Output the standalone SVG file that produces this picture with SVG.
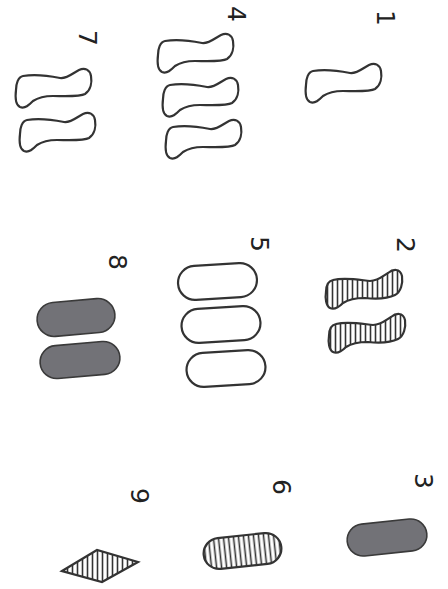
<svg xmlns="http://www.w3.org/2000/svg" width="448" height="589" viewBox="0 0 448 589">
<style>
.lbl{font-family:"DejaVu Sans",sans-serif;font-size:25px;fill:#222;text-anchor:middle;dominant-baseline:central}
.out{fill:none;stroke:#333;stroke-width:2.2;stroke-linejoin:round}
.hat{fill:url(#hatch);stroke:#333;stroke-width:2.2}
.gry{fill:#727277;stroke:#3a3a3a;stroke-width:1.6}
</style>
<defs>
<pattern id="hatch" patternUnits="userSpaceOnUse" width="5" height="10">
<rect width="5" height="10" fill="#fff"/>
<line x1="2.5" y1="0" x2="2.5" y2="10" stroke="#333" stroke-width="1.6"/>
</pattern>
<path id="sq" d="M8,8 C20,6 35,8 45,10 C52,11 58,5 64,2 C70,-1 75,2 76,8 C77,14 76,22 70,26 C65,29 48,28 38,28 C30,28 24,29 18,33 C14,37 10,41 5,39 C1,37 0,30 1,22 C1,16 3,9 8,8 Z"/>
<path id="sqh" d="M8,12 C20,9 35,12 45,13 C53,13 58,8 63,5 C68,1 75,0 77,8 C78,15 76,24 70,27 C62,31 50,31 40,30 C30,30 24,31 18,35 C14,39 9,42 5,40 C1,38 0,30 1,24 C1,18 3,13 8,12 Z"/>
</defs>
<rect width="448" height="589" fill="#fff"/>

<g id="n1">
<text class="lbl" transform="translate(385,18) rotate(90)">1</text>
<use href="#sq" class="out" x="305" y="63"/>
</g>
<g id="n4">
<text class="lbl" transform="translate(236,14) rotate(90)">4</text>
<use href="#sq" class="out" x="157" y="33"/>
<use href="#sq" class="out" x="162" y="77"/>
<use href="#sq" class="out" x="165" y="119"/>
</g>
<g id="n7">
<text class="lbl" transform="translate(87,38) rotate(90)">7</text>
<use href="#sq" class="out" x="15" y="68"/>
<use href="#sq" class="out" x="19" y="112"/>
</g>

<g id="n2">
<text class="lbl" transform="translate(405,245) rotate(90)">2</text>
<use href="#sqh" class="hat" x="325" y="268"/>
<use href="#sqh" class="hat" x="328" y="312"/>
</g>
<g id="n5">
<text class="lbl" transform="translate(259,244) rotate(90)">5</text>
<rect class="out" x="-39.5" y="-17" width="79" height="34" rx="17" transform="translate(217.5,281.5) rotate(-3.5)"/>
<rect class="out" x="-39.5" y="-17" width="79" height="34" rx="17" transform="translate(221,324.5) rotate(-3.5)"/>
<rect class="out" x="-39.5" y="-17" width="79" height="34" rx="17" transform="translate(226,368.5) rotate(-3.5)"/>
</g>
<g id="n8">
<text class="lbl" transform="translate(117,262) rotate(90)">8</text>
<rect class="gry" x="-39" y="-17" width="78" height="34" rx="17" transform="translate(76,317.5) rotate(-5)"/>
<rect class="gry" x="-40" y="-16.5" width="80" height="33" rx="16.5" transform="translate(80,360) rotate(-5)"/>
</g>

<g id="n3">
<text class="lbl" transform="translate(423,481) rotate(90)">3</text>
<rect class="gry" x="-40" y="-16" width="80" height="32" rx="16" transform="translate(387,537.5) rotate(-6)"/>
</g>
<g id="n6">
<text class="lbl" transform="translate(281,487) rotate(90)">6</text>
<rect class="hat" x="-39" y="-15.5" width="78" height="31" rx="15.5" transform="translate(242.5,551) rotate(-6)"/>
</g>
<g id="n9">
<text class="lbl" transform="translate(139,496) rotate(90)">9</text>
<polygon class="hat" points="62,571 97,550 138,562 102,582"/>
</g>
</svg>
